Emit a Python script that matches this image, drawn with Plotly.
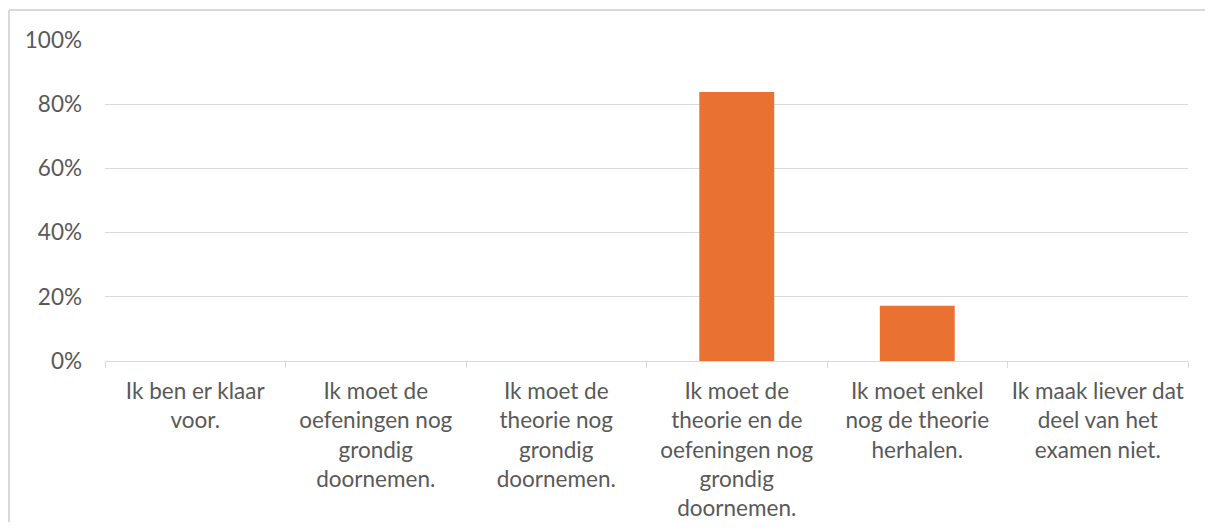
import plotly.graph_objects as go

categories = [
    "Ik ben er klaar<br>voor.",
    "Ik moet de<br>oefeningen nog<br>grondig<br>doornemen.",
    "Ik moet de<br>theorie nog<br>grondig<br>doornemen.",
    "Ik moet de<br>theorie en de<br>oefeningen nog<br>grondig<br>doornemen.",
    "Ik moet enkel<br>nog de theorie<br>herhalen.",
    "Ik maak liever dat<br>deel van het<br>examen niet.",
]
values = [0.0, 0.0, 0.0, 0.838, 0.172, 0.0]
y_ticks = [0, 0.2, 0.4, 0.6, 0.8, 1.0]
y_labels = ["0%", "20%", "40%", "60%", "80%", "100%"]

# page has an 8px body margin, so the figure is sized/offset to compensate
W, H = 1197, 514
L, R, T, B = 97, 17, 32, 161
PW, PH = W - L - R, H - T - B
FONT = "Lato"
TXT = "#595959"
GRID = "#D9D9D9"

fig = go.Figure(go.Bar(
    x=categories, y=values,
    marker=dict(color="#E97132", line=dict(width=0)),
))

bx = (1 - L) / PW
by = 1 + (T - 2) / PH
fig.update_layout(
    width=W, height=H,
    margin=dict(l=L, r=R, t=T, b=B),
    paper_bgcolor="white", plot_bgcolor="white",
    bargap=0.585,
    showlegend=False,
    font=dict(family=FONT, color=TXT, size=22.5),
    shapes=[
        dict(type="line", xref="paper", yref="paper",
             x0=bx, x1=1 + (R + 10) / PW, y0=by, y1=by,
             line=dict(color=GRID, width=2)),
        dict(type="line", xref="paper", yref="paper",
             x0=bx, x1=bx, y0=by, y1=-(B + 10) / PH,
             line=dict(color=GRID, width=2)),
    ],
)
fig.update_xaxes(
    showline=True, linecolor=GRID, linewidth=1,
    ticks="outside", tickson="boundaries", ticklen=6, tickcolor=GRID,
    ticklabelstandoff=10, tickangle=0,
    tickfont=dict(family=FONT, color=TXT, size=22.5),
    showgrid=False, automargin=False,
)
fig.update_yaxes(
    range=[0, 1], tickvals=y_ticks, ticktext=y_labels,
    showgrid=True, gridcolor=GRID, gridwidth=1,
    zeroline=False, showline=False,
    ticklabelstandoff=22, automargin=False,
    tickfont=dict(family=FONT, color=TXT, size=22.5),
)

fig.write_html("out.html")
